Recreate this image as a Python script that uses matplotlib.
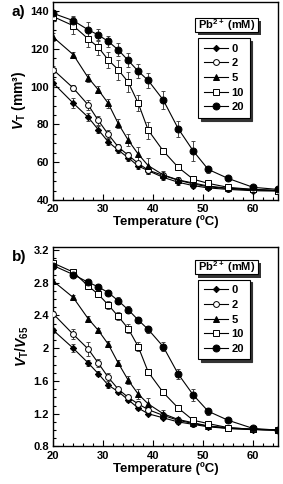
import numpy as np
import matplotlib
matplotlib.use("Agg")
import matplotlib.pyplot as plt
from matplotlib.patches import Rectangle
from matplotlib.transforms import offset_copy

plt.rcParams['font.family'] = ['Liberation Sans', 'DejaVu Sans']
plt.rcParams['font.weight'] = 'bold'
plt.rcParams['mathtext.fontset'] = 'custom'
plt.rcParams['mathtext.rm'] = 'Liberation Sans:bold'
plt.rcParams['mathtext.it'] = 'Liberation Sans:italic:bold'
plt.rcParams['mathtext.bf'] = 'Liberation Sans:bold'

# temperatures (ºC)
temps = [20, 24, 27, 29, 31, 33, 35, 37, 39, 42, 45, 48, 51, 55, 60, 65]
conc_labels = ['0', '2', '5', '10', '20']

# a) V_T (mm3)
vt_0 = [101.9, 91.3, 83.8, 77.3, 70.8, 66.4, 62.4, 58.0, 55.5, 52.0, 49.4, 47.6, 46.4, 45.6, 44.9, 44.7]
vt_2 = [109.0, 99.3, 90.3, 82.2, 74.8, 68.1, 63.7, 59.4, 55.8, 53.0, 50.5, 48.5, 47.0, 46.0, 45.3, 45.0]
vt_5 = [126.2, 117.0, 104.7, 98.4, 91.2, 80.5, 71.7, 64.3, 58.2, 53.3, 50.6, 49.0, 47.4, 46.2, 45.6, 45.0]
vt_10 = [137.1, 132.3, 125.3, 120.9, 114.2, 109.0, 102.4, 91.3, 77.0, 66.0, 57.3, 51.0, 48.8, 46.7, 45.6, 44.9]
vt_20 = [138.8, 135.0, 130.1, 127.4, 124.0, 119.5, 113.9, 108.2, 103.3, 93.0, 77.8, 66.0, 56.2, 51.4, 46.7, 45.6]

err_0 = [2.0, 2.5, 2.0, 1.8, 1.5, 1.5, 1.5, 1.8, 1.5, 1.5, 1.2, 1.0, 1.0, 0.8, 0.8, 0.6]
err_2 = [2.0, 1.5, 2.5, 2.5, 2.0, 1.5, 1.5, 1.5, 1.5, 1.5, 1.2, 1.0, 1.0, 0.8, 0.8, 0.6]
err_5 = [2.0, 1.5, 2.0, 2.0, 2.5, 2.5, 3.0, 3.5, 4.2, 2.0, 1.5, 1.2, 1.0, 0.8, 0.8, 0.6]
err_10 = [2.5, 4.5, 4.4, 4.0, 4.4, 5.3, 5.3, 4.4, 4.5, 1.5, 1.2, 1.0, 1.0, 0.8, 0.8, 0.6]
err_20 = [2.0, 2.6, 4.0, 3.0, 3.0, 3.5, 3.7, 3.7, 3.9, 4.8, 4.2, 5.3, 2.0, 1.0, 1.0, 0.6]

# b) V_T / V_65
rel_0 = [2.22, 2.00, 1.82, 1.69, 1.55, 1.47, 1.37, 1.27, 1.20, 1.15, 1.10, 1.07, 1.04, 1.02, 1.005, 1.0]
rel_2 = [2.42, 2.17, 1.99, 1.82, 1.645, 1.50, 1.40, 1.32, 1.25, 1.18, 1.12, 1.08, 1.05, 1.02, 1.01, 1.0]
rel_5 = [2.82, 2.62, 2.36, 2.22, 2.05, 1.82, 1.61, 1.44, 1.32, 1.20, 1.13, 1.09, 1.05, 1.03, 1.01, 1.0]
rel_10 = [3.04, 2.93, 2.76, 2.66, 2.53, 2.39, 2.24, 2.02, 1.71, 1.46, 1.27, 1.12, 1.08, 1.03, 1.01, 1.0]
rel_20 = [3.01, 2.90, 2.805, 2.75, 2.68, 2.58, 2.47, 2.345, 2.23, 2.02, 1.685, 1.43, 1.23, 1.12, 1.02, 1.0]

err_rel_0 = [0.03, 0.05, 0.04, 0.03, 0.03, 0.03, 0.03, 0.03, 0.02, 0.02, 0.02, 0.02, 0.01, 0.01, 0.01, 0.0]
err_rel_2 = [0.04, 0.06, 0.08, 0.05, 0.05, 0.03, 0.03, 0.03, 0.03, 0.03, 0.02, 0.02, 0.01, 0.01, 0.01, 0.0]
err_rel_5 = [0.03, 0.03, 0.03, 0.03, 0.04, 0.04, 0.05, 0.06, 0.07, 0.04, 0.03, 0.02, 0.02, 0.01, 0.01, 0.0]
err_rel_10 = [0.03, 0.03, 0.04, 0.04, 0.05, 0.05, 0.05, 0.05, 0.04, 0.03, 0.03, 0.02, 0.02, 0.01, 0.01, 0.0]
err_rel_20 = [0.03, 0.03, 0.03, 0.03, 0.03, 0.04, 0.04, 0.04, 0.04, 0.05, 0.06, 0.07, 0.04, 0.02, 0.02, 0.0]

# marker style per concentration: (marker, facecolor, size)
styles = [('D', 'black', 3.2), ('o', 'white', 4.2), ('^', 'black', 4.6),
          ('s', 'white', 4.0), ('o', 'black', 5.0)]

shadow_props = {'color': '#333333', 'alpha': 1.0}


def draw_panel(ax, series, errors, ylim, yticks, yminor, ylabel, tag, title_box, leg_y):
    for vals, errs, lab, (mk, fc, ms) in zip(series, errors, conc_labels, styles):
        ax.errorbar(temps, vals, yerr=errs, fmt='none', ecolor='#444444',
                    elinewidth=0.7, capsize=1.6, capthick=0.7, zorder=2)
        ax.plot(temps, vals, color='black', lw=0.8, marker=mk, ms=ms,
                mfc=fc, mec='black', mew=0.7, label=lab, zorder=3)
    ax.set_xlim(20, 65)
    ax.set_ylim(*ylim)
    ax.set_xticks([20, 30, 40, 50, 60])
    ax.set_xticks(np.arange(20, 65, 2), minor=True)
    ax.set_yticks(yticks)
    ax.set_yticks(yminor, minor=True)
    ax.tick_params(which='both', direction='in', labelsize=8, width=0.8)
    ax.tick_params(which='major', length=4, pad=3)
    ax.tick_params(which='minor', length=2.5)
    for sp in ax.spines.values():
        sp.set_linewidth(1.0)
    ax.set_xlabel('Temperature (ºC)', fontsize=9.5, fontweight='bold', labelpad=1)
    ax.set_ylabel(ylabel, fontsize=10, fontweight='bold', labelpad=2)
    ax.text(-0.185, 0.95, tag, transform=ax.transAxes, fontsize=11,
            fontweight='bold', ha='left', va='center')

    # series legend
    leg = ax.legend(loc='upper left', bbox_to_anchor=(0.645, leg_y),
                    borderaxespad=0, frameon=True, fancybox=False,
                    shadow=shadow_props, handlelength=2.2, handletextpad=0.3,
                    labelspacing=0.42, borderpad=0.5,
                    prop={'weight': 'bold', 'size': 8})
    leg.get_frame().set_edgecolor('black')
    leg.get_frame().set_linewidth(0.8)
    leg.set_zorder(6)

    # separate title box above the legend, with its own shadow
    x0, y0, w, h = title_box
    sh_tr = offset_copy(ax.transAxes, fig=ax.figure, x=2.2, y=-2.2, units='points')
    ax.add_patch(Rectangle((x0, y0), w, h, transform=sh_tr, fc='#333333',
                           ec='none', zorder=6.5, clip_on=False))
    ax.add_patch(Rectangle((x0, y0), w, h, transform=ax.transAxes, fc='white',
                           ec='black', lw=0.8, zorder=7, clip_on=False))
    ax.text(x0 + w / 2, y0 + h / 2, r'Pb$^\mathbf{2+}$ (mM)', transform=ax.transAxes,
            fontsize=8, ha='center', va='center', zorder=8)


fig = plt.figure(figsize=(2.83, 4.84), dpi=100)
ax1 = fig.add_axes([0.188, 0.5868, 0.795, 0.4097])
ax2 = fig.add_axes([0.188, 0.0775, 0.795, 0.4128])

draw_panel(ax1, [vt_0, vt_2, vt_5, vt_10, vt_20],
           [err_0, err_2, err_5, err_10, err_20],
           (40, 145), [40, 60, 80, 100, 120, 140], np.arange(40, 145, 5),
           r'$V_\mathbf{T}$ (mm³)', 'a)', (0.63, 0.845, 0.28, 0.075), 0.817)

draw_panel(ax2, [rel_0, rel_2, rel_5, rel_10, rel_20],
           [err_rel_0, err_rel_2, err_rel_5, err_rel_10, err_rel_20],
           (0.8, 3.24), [0.8, 1.2, 1.6, 2.0, 2.4, 2.8, 3.2], np.arange(0.8, 3.25, 0.1),
           r'$V_\mathbf{T}/V_\mathbf{65}$', 'b)', (0.63, 0.861, 0.28, 0.074), 0.835)
ax2.set_yticklabels(['0.8', '1.2', '1.6', '2', '2.4', '2.8', '3.2'])

fig.savefig('out.png', dpi=100)
